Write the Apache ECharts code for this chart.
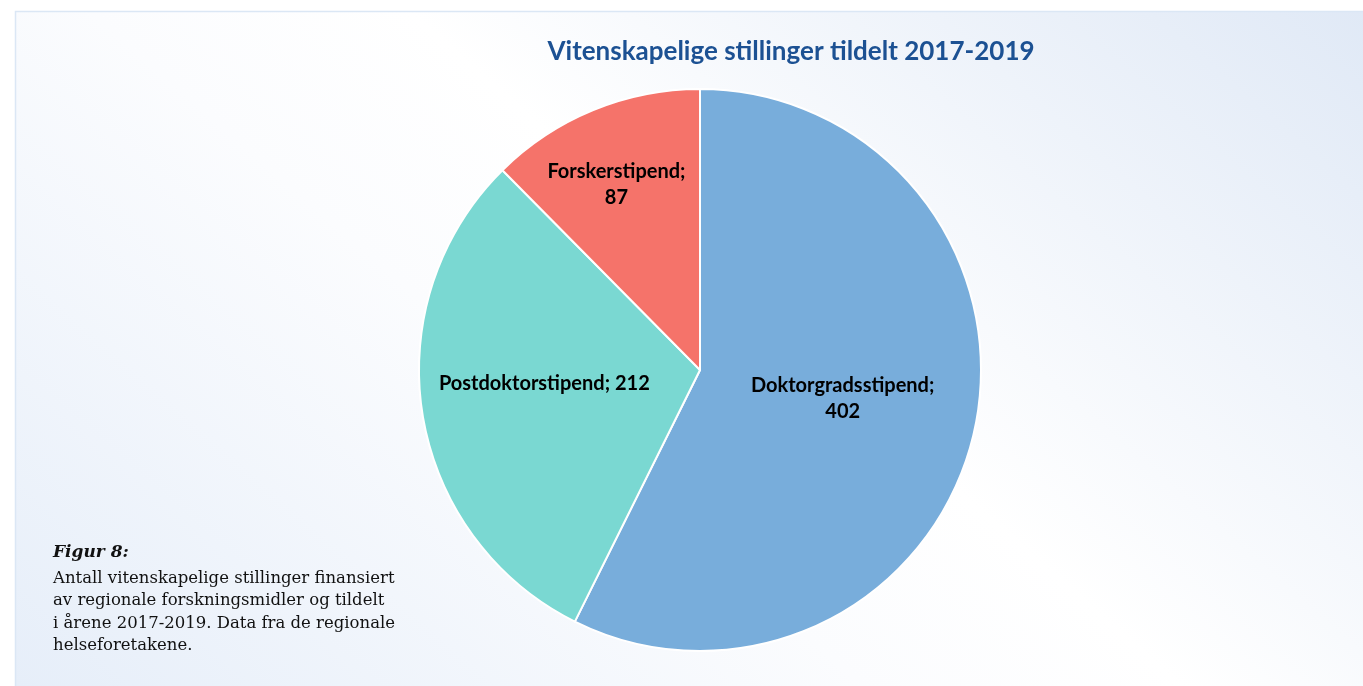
<!DOCTYPE html>
<html>
<head>
<meta charset="utf-8">
<script src="https://cdn.jsdelivr.net/npm/echarts@6/dist/echarts.min.js"></script>
<style>
  html, body { margin: 0; padding: 0; background: #ffffff; }
  #chart-container { width: 1363px; height: 686px; }
</style>
</head>
<body>
<div id="chart-container"></div>
<script>
// Vitenskapelige stillinger - kakediagram

var chart = echarts.init(document.getElementById('chart-container'));

// data
var categories = ['Doktorgradsstipend', 'Postdoktorstipend', 'Forskerstipend'];
var values = [402, 212, 87];
var sliceColors = ['#78addb', '#7ad8d2', '#f5736a'];
// etiketter som brytes over to linjer
var wrapLabel = [true, false, true];
// forskyvning av etikettene (Excel plasserer dem litt annerledes)
var labelOffsets = [[3, -4], [-14, -9], [-29, -53]];

var TITLE = 'Vitenskapelige stillinger tildelt 2017-2019';
var CAPTION_HEAD = 'Figur 8:';
var CAPTION_LINES = [
    'Antall vitenskapelige stillinger finansiert',
    'av regionale forskningsmidler og tildelt',
    'i årene 2017-2019. Data fra de regionale',
    'helseforetakene.'
];

var pieData = categories.map(function (name, i) {
    return {
        name: name,
        value: values[i],
        itemStyle: { color: sliceColors[i] },
        label: { offset: labelOffsets[i] }
    };
});

// bakgrunn: blå i hjørnene nede til venstre og oppe til høyre, hvit i midten
var bgGradient = new echarts.graphic.LinearGradient(219, 864, 1136, -187, [
    { offset: 0, color: '#e6eef9' },
    { offset: 0.4, color: '#fbfcfe' },
    { offset: 0.55, color: '#ffffff' },
    { offset: 1, color: '#e0e9f6' }
], true);

var option = {
    backgroundColor: '#ffffff',
    animation: false,
    title: {
        text: TITLE,
        left: 786,
        top: 34,
        textAlign: 'center',
        textStyle: {
            fontFamily: 'Lato',
            fontWeight: 'bold',
            fontSize: 26,
            color: '#1c5193'
        }
    },
    graphic: [
        {
            type: 'rect',
            z: -10,
            silent: true,
            shape: { x: 15.5, y: 11.5, width: 1360, height: 690 },
            style: { fill: bgGradient, stroke: '#dbe7f5', lineWidth: 1.5 }
        },
        {
            type: 'text',
            left: 53,
            top: 544,
            style: {
                text: CAPTION_HEAD,
                font: 'italic bold 17px "DejaVu Serif"',
                fill: '#111111'
            }
        },
        {
            type: 'text',
            left: 53,
            top: 567,
            style: {
                text: CAPTION_LINES.join('\n'),
                font: '16.5px "DejaVu Serif"',
                lineHeight: 22.5,
                fill: '#111111'
            }
        }
    ],
    series: [
        {
            name: 'Stillinger',
            type: 'pie',
            center: [700, 370],
            radius: 281,
            startAngle: 90,
            clockwise: true,
            itemStyle: {
                borderColor: '#ffffff',
                borderWidth: 2
            },
            label: {
                show: true,
                position: 'inside',
                fontFamily: 'Lato',
                fontWeight: 'bold',
                fontSize: 20,
                lineHeight: 26,
                color: '#000000',
                formatter: function (p) {
                    var sep = wrapLabel[p.dataIndex] ? ';\n' : '; ';
                    return p.name + sep + p.value;
                }
            },
            labelLine: { show: false },
            emphasis: { disabled: true },
            data: pieData
        }
    ]
};

chart.setOption(option);

window.addEventListener('resize', function () {
    chart.resize();
});
</script>
</body>
</html>
